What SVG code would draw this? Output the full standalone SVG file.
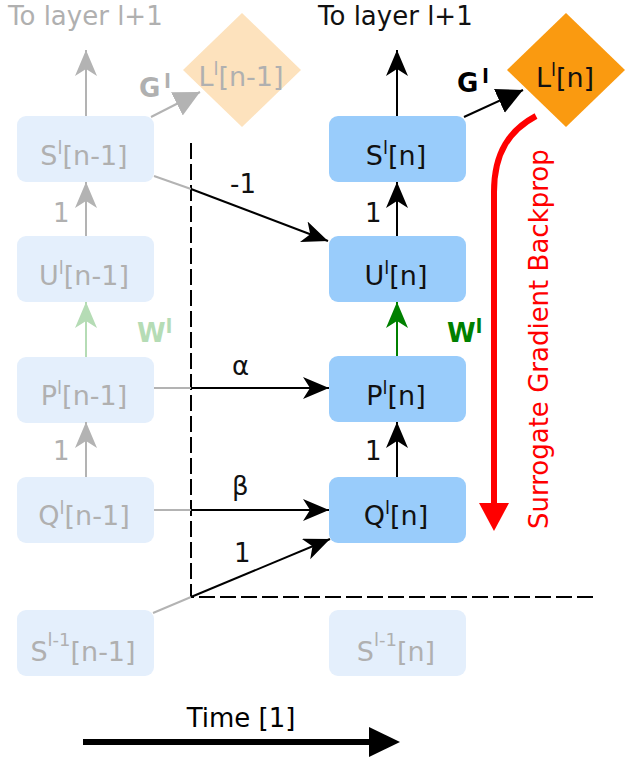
<svg xmlns="http://www.w3.org/2000/svg" width="630" height="761" viewBox="0 0 630 761">
<style>
text{font-family:"DejaVu Sans","Liberation Sans",sans-serif;font-size:26px}
.lbox{fill:#e4effc}
.abox{fill:#99ccfb}
.lt{fill:#b0b0b0}
.dt{fill:#111}
.mid{text-anchor:middle}
.nl{font-size:27px}
.ga{stroke:#b3b3b3;stroke-width:2;fill:none}
.ba{stroke:#000;stroke-width:2;fill:none}
.dash{stroke:#000;stroke-width:2;fill:none;stroke-dasharray:16 5}
.b{font-weight:bold}
</style>
<defs>
<marker id="cb" markerUnits="userSpaceOnUse" markerWidth="27" markerHeight="23" refX="26" refY="11" orient="auto"><path d="M0,0 L26,11 L0,22 L7,11 z" fill="#000"/></marker>
<marker id="cg" markerUnits="userSpaceOnUse" markerWidth="27" markerHeight="23" refX="26" refY="11" orient="auto"><path d="M0,0 L26,11 L0,22 L7,11 z" fill="#b3b3b3"/></marker>
<marker id="cgr" markerUnits="userSpaceOnUse" markerWidth="27" markerHeight="23" refX="26" refY="11" orient="auto"><path d="M0,0 L26,11 L0,22 L7,11 z" fill="#008000"/></marker>
<marker id="clg" markerUnits="userSpaceOnUse" markerWidth="27" markerHeight="23" refX="26" refY="11" orient="auto"><path d="M0,0 L26,11 L0,22 L7,11 z" fill="#b5dcb5"/></marker>
<marker id="tb" markerUnits="userSpaceOnUse" markerWidth="27" markerHeight="27" refX="26" refY="13" orient="auto"><path d="M0,0 L26,13 L0,26 z" fill="#000"/></marker>
<marker id="tg" markerUnits="userSpaceOnUse" markerWidth="27" markerHeight="27" refX="26" refY="13" orient="auto"><path d="M0,0 L26,13 L0,26 z" fill="#b3b3b3"/></marker>
</defs>

<!-- top labels -->
<text class="lt" x="8" y="25">To layer l+1</text>
<text class="dt" x="318" y="25">To layer l+1</text>

<!-- nodes: previous time step (faded) -->
<g id="L_prev"><polygon points="242,13 301,70 242,127 183,70" fill="#fde2bd"/><text class="lt mid nl" x="241" y="86">L<tspan font-size="18" dy="-11">l</tspan><tspan dy="11">[n-1]</tspan></text></g>
<g id="S_prev"><rect class="lbox" x="17" y="116" width="137" height="66" rx="9"/><text class="lt mid nl" x="84" y="165">S<tspan font-size="18" dy="-11">l</tspan><tspan dy="11">[n-1]</tspan></text></g>
<g id="U_prev"><rect class="lbox" x="17" y="236" width="137" height="66" rx="9"/><text class="lt mid nl" x="84" y="285">U<tspan font-size="18" dy="-11">l</tspan><tspan dy="11">[n-1]</tspan></text></g>
<g id="P_prev"><rect class="lbox" x="17" y="357" width="137" height="66" rx="9"/><text class="lt mid nl" x="84" y="405">P<tspan font-size="18" dy="-11">l</tspan><tspan dy="11">[n-1]</tspan></text></g>
<g id="Q_prev"><rect class="lbox" x="17" y="477" width="137" height="66" rx="9"/><text class="lt mid nl" x="84" y="525">Q<tspan font-size="18" dy="-11">l</tspan><tspan dy="11">[n-1]</tspan></text></g>
<g id="Sin_prev"><rect class="lbox" x="17" y="610" width="137" height="66" rx="9"/><text class="lt mid nl" x="83" y="661">S<tspan font-size="18" dy="-15">l-1</tspan><tspan dy="15">[n-1]</tspan></text></g>

<!-- nodes: current time step -->
<g id="L_cur"><polygon points="566,13 625,70 566,127 507,70" fill="#fa9a10"/><text class="dt mid nl" x="565" y="87">L<tspan font-size="18" dy="-11">l</tspan><tspan dy="11">[n]</tspan></text></g>
<g id="S_cur"><rect class="abox" x="329" y="116" width="137" height="66" rx="9"/><text class="dt mid nl" x="396" y="165">S<tspan font-size="18" dy="-11">l</tspan><tspan dy="11">[n]</tspan></text></g>
<g id="U_cur"><rect class="abox" x="329" y="236" width="137" height="66" rx="9"/><text class="dt mid nl" x="396" y="285">U<tspan font-size="18" dy="-11">l</tspan><tspan dy="11">[n]</tspan></text></g>
<g id="P_cur"><rect class="abox" x="329" y="356" width="137" height="66" rx="9"/><text class="dt mid nl" x="396" y="405">P<tspan font-size="18" dy="-11">l</tspan><tspan dy="11">[n]</tspan></text></g>
<g id="Q_cur"><rect class="abox" x="329" y="477" width="137" height="66" rx="9"/><text class="dt mid nl" x="396" y="525">Q<tspan font-size="18" dy="-11">l</tspan><tspan dy="11">[n]</tspan></text></g>
<g id="Sin_cur"><rect class="lbox" x="329" y="610" width="137" height="66" rx="9"/><text class="lt mid nl" x="396" y="661">S<tspan font-size="18" dy="-15">l-1</tspan><tspan dy="15">[n]</tspan></text></g>

<!-- connectors -->
<g id="connectors">
<path class="dash" d="M191,143 V597 H596"/>
<!-- faded column -->
<line class="ga" x1="86" y1="116" x2="86" y2="50" marker-end="url(#cg)"/>
<line class="ga" x1="86" y1="236" x2="86" y2="182" marker-end="url(#cg)"/>
<line x1="86" y1="357" x2="86" y2="302" stroke="#b5dcb5" stroke-width="2" marker-end="url(#clg)"/>
<line class="ga" x1="86" y1="477" x2="86" y2="422" marker-end="url(#cg)"/>
<line class="ga" x1="151" y1="117" x2="200" y2="92" marker-end="url(#tg)"/>
<!-- current column -->
<line class="ba" x1="397" y1="116" x2="397" y2="50" marker-end="url(#cb)"/>
<line class="ba" x1="397" y1="236" x2="397" y2="182" marker-end="url(#cb)"/>
<line x1="397" y1="356" x2="397" y2="302" stroke="#008000" stroke-width="2" marker-end="url(#cgr)"/>
<line class="ba" x1="397" y1="477" x2="397" y2="422" marker-end="url(#cb)"/>
<line class="ba" x1="464" y1="117" x2="523" y2="90" marker-end="url(#tb)"/>
<!-- across time -->
<line class="ga" x1="154" y1="176" x2="191" y2="189"/>
<line class="ba" x1="191" y1="189" x2="328" y2="241" marker-end="url(#cb)"/>
<line class="ga" x1="154" y1="388" x2="191" y2="388"/>
<line class="ba" x1="191" y1="388" x2="329" y2="388" marker-end="url(#cb)"/>
<line class="ga" x1="154" y1="510" x2="191" y2="510"/>
<line class="ba" x1="191" y1="510" x2="329" y2="510" marker-end="url(#cb)"/>
<line class="ga" x1="153" y1="613" x2="191" y2="597"/>
<line class="ba" x1="191" y1="597" x2="330" y2="539" marker-end="url(#cb)"/>
<!-- surrogate gradient -->
<path d="M536,116 C510,130 494,152 494,192 L494,505" fill="none" stroke="#ff0000" stroke-width="6"/>
<polygon points="479,503 509,503 494,531" fill="#ff0000"/>
<!-- time -->
<line x1="83" y1="742" x2="372" y2="742" stroke="#000" stroke-width="6"/>
<polygon points="369,727 400,742 369,757" fill="#000"/>
</g>

<!-- connector labels -->
<text class="lt" x="53" y="222">1</text>
<text class="lt" x="53" y="460">1</text>
<text class="dt" x="365" y="222">1</text>
<text class="dt" x="365" y="460">1</text>
<text class="b" x="137" y="342" fill="#b5dcb5" font-size="27">W<tspan font-size="19" dy="-9">l</tspan></text>
<text class="b" x="447" y="342" fill="#008000" font-size="27">W<tspan font-size="19" dy="-9">l</tspan></text>
<text class="b" x="139" y="97" fill="#b0b0b0" font-size="25">G<tspan font-size="19" dy="-9" dx="4">l</tspan></text>
<text class="b" x="457" y="92" fill="#000" font-size="25">G<tspan font-size="19" dy="-9" dx="4">l</tspan></text>
<text class="dt" x="230" y="193">-1</text>
<text class="dt" x="232" y="375">α</text>
<text class="dt" x="232" y="495">β</text>
<text class="dt" x="234" y="562">1</text>
<text class="mid" x="241" y="727" fill="#000">Time [1]</text>
<text fill="#ff0000" font-size="25.5" transform="translate(548,529) rotate(-90)">Surrogate Gradient Backprop</text>
</svg>
